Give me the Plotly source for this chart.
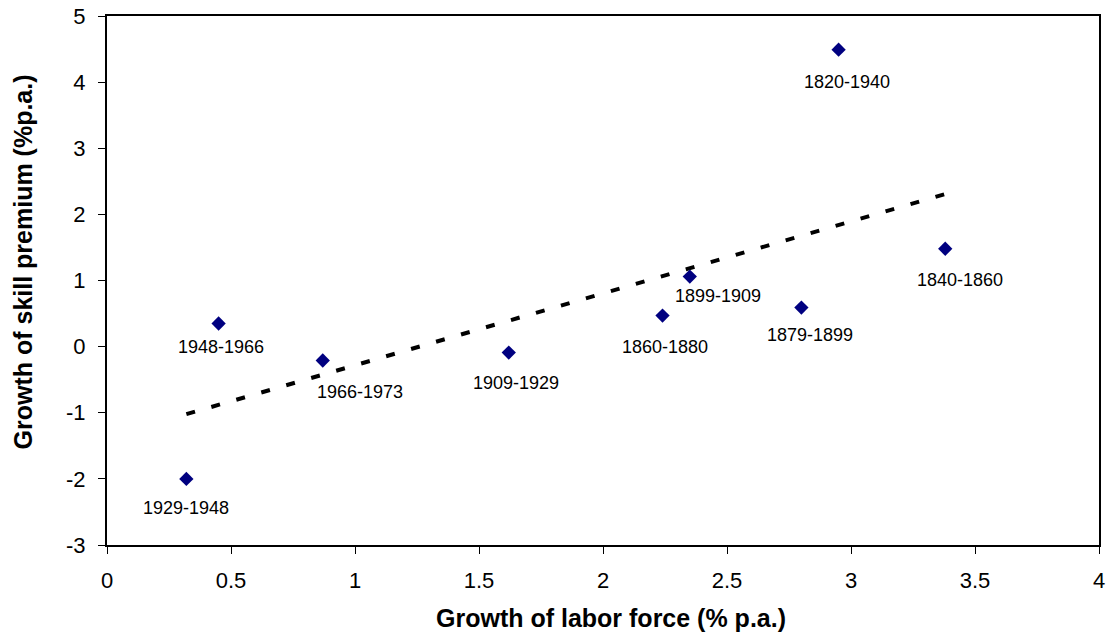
import numpy as np
import plotly.graph_objects as go

periods = ["1929-1948", "1948-1966", "1966-1973", "1909-1929", "1860-1880",
           "1899-1909", "1879-1899", "1840-1860", "1820-1940"]
labor_growth = [0.32, 0.45, 0.87, 1.62, 2.24, 2.35, 2.80, 3.38, 2.95]
skill_premium_growth = [-2.00, 0.35, -0.21, -0.09, 0.47, 1.06, 0.59, 1.48, 4.49]

x_ticks = [0, 0.5, 1, 1.5, 2, 2.5, 3, 3.5, 4]
x_tick_labels = ["0", "0.5", "1", "1.5", "2", "2.5", "3", "3.5", "4"]
y_ticks = [-3, -2, -1, 0, 1, 2, 3, 4, 5]
y_tick_labels = ["-3", "-2", "-1", "0", "1", "2", "3", "4", "5"]

x_title = "Growth of labor force (% p.a.)"
y_title = "Growth of skill premium (%p.a.)"

# label offsets in pixels (layout only)
label_shift = {
    "1929-1948": (0, -29), "1948-1966": (2, -24), "1966-1973": (37, -31),
    "1909-1929": (7, -30), "1860-1880": (2, -31), "1899-1909": (28, -19),
    "1879-1899": (9, -27), "1840-1860": (15, -31), "1820-1940": (8, -32),
}

# linear trend line (least squares fit of the data)
xs = np.array(labor_growth)
ys = np.array(skill_premium_growth)
slope, intercept = np.polyfit(xs, ys, 1)
trend_x = [xs.min(), xs.max()]
trend_y = [slope * v + intercept for v in trend_x]

font = "Liberation Sans, Arial, sans-serif"

fig = go.Figure()
fig.add_trace(go.Scatter(
    x=trend_x, y=trend_y, mode="lines",
    line=dict(color="black", width=4, dash="9px,17px"),
    hoverinfo="skip", showlegend=False,
))
fig.add_trace(go.Scatter(
    x=labor_growth, y=skill_premium_growth, mode="markers",
    marker=dict(symbol="diamond", color="#000080", size=11, line=dict(width=0)),
    text=periods, showlegend=False,
))

for p, xv, yv in zip(periods, labor_growth, skill_premium_growth):
    dx, dy = label_shift[p]
    fig.add_annotation(x=xv, y=yv, text=p, showarrow=False,
                       xshift=dx, yshift=dy,
                       font=dict(family=font, size=18, color="black"))

fig.add_annotation(x=0.5, y=0, xref="paper", yref="paper", text="<b>" + x_title + "</b>",
                   showarrow=False, xanchor="center", yanchor="middle",
                   xshift=8, yshift=-73,
                   font=dict(family=font, size=25, color="black"))
fig.add_annotation(x=0, y=0.5, xref="paper", yref="paper", text="<b>" + y_title + "</b>",
                   showarrow=False, xanchor="center", yanchor="middle", textangle=-90,
                   xshift=-85, yshift=18,
                   font=dict(family=font, size=25, color="black"))

axis_common = dict(showline=True, linewidth=2, linecolor="black", mirror=True,
                   ticks="outside", ticklen=7, tickwidth=1, tickcolor="black",
                   showgrid=False, zeroline=False, automargin=False,
                   tickfont=dict(family=font, size=22, color="black"))

fig.update_xaxes(range=[0, 4], tickvals=x_ticks, ticktext=x_tick_labels,
                 ticklabelstandoff=8, **axis_common)
fig.update_yaxes(range=[-3, 5], tickvals=y_ticks, ticktext=y_tick_labels,
                 ticklabelstandoff=8, **axis_common)

fig.update_layout(
    width=1113, height=638,
    margin=dict(l=107, r=14, t=16, b=93),
    paper_bgcolor="white", plot_bgcolor="white",
    font=dict(family=font),
)

fig.write_html("out.html", config={"displayModeBar": False},
               post_script="document.body.style.margin='0';")
